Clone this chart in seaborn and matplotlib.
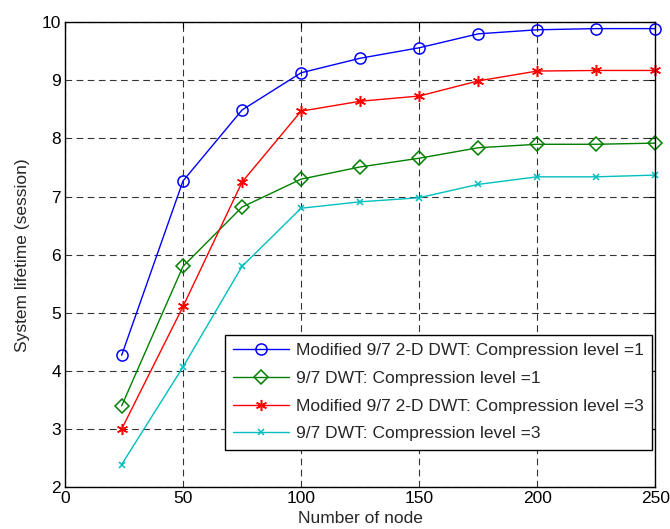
import numpy as np
import pandas as pd
import matplotlib
matplotlib.use("Agg")
import matplotlib.pyplot as plt
import seaborn as sns

nodes = [24, 50, 75, 100, 125, 150, 175, 200, 225, 250]
mod_level1 = [4.27, 7.27, 8.49, 9.13, 9.38, 9.56, 9.80, 9.87, 9.89, 9.89]
dwt_level1 = [3.40, 5.80, 6.82, 7.30, 7.51, 7.66, 7.84, 7.90, 7.90, 7.92]
mod_level3 = [3.00, 5.11, 7.25, 8.47, 8.64, 8.73, 8.99, 9.16, 9.17, 9.17]
dwt_level3 = [2.39, 4.07, 5.80, 6.80, 6.91, 6.98, 7.21, 7.34, 7.34, 7.37]

labels = ["Modified 9/7 2-D DWT: Compression level =1",
          "9/7 DWT: Compression level =1",
          "Modified 9/7 2-D DWT: Compression level =3",
          "9/7 DWT: Compression level =3"]
colors = ["#0000ff", "#008000", "#ff0000", "#00bfbf"]
markers = ["o", "D", (6, 2, 0), "x"]
msizes = [8, 7, 8, 5]

sns.set_style("white")
plt.rcParams['font.family'] = ['Liberation Sans', 'DejaVu Sans']
fs = 12.5

fig = plt.figure(figsize=(6.7, 5.29), dpi=100)
ax = fig.add_axes([0.097, 0.079, 0.881, 0.879])

for vals, lab, c, m, s in zip([mod_level1, dwt_level1, mod_level3, dwt_level3],
                              labels, colors, markers, msizes):
    df = pd.DataFrame({"node": nodes, "life": vals})
    sns.lineplot(data=df, x="node", y="life", ax=ax, color=c, marker=m,
                 markersize=s, markerfacecolor="none", markeredgecolor=c,
                 markeredgewidth=1.1, linewidth=1.0, label=lab, clip_on=False)

ax.set_xlim(0, 250)
ax.set_ylim(2, 10)
ax.set_xticks(np.arange(0, 251, 50))
ax.set_yticks(np.arange(2, 11, 1))
ax.grid(True, color="black", linestyle=(0, (6, 4)), linewidth=0.8, alpha=0.8)
ax.tick_params(direction="in", length=4, top=True, right=True, labelsize=fs,
               colors="black", pad=3)
for sp in ax.spines.values():
    sp.set_color("black")
    sp.set_linewidth(1.0)
ax.set_xlabel("Number of node", fontsize=fs, labelpad=3)
ax.set_ylabel("System lifetime (session)", fontsize=fs, labelpad=8)

leg = ax.legend(loc="lower right", bbox_to_anchor=(0.995, 0.08), fontsize=fs,
                frameon=True, fancybox=False, edgecolor="black",
                borderpad=0.5, labelspacing=0.72, handlelength=3.2,
                handletextpad=0.4, framealpha=1, borderaxespad=0)
leg.get_frame().set_linewidth(1.0)

fig.savefig("out.png", dpi=100)
